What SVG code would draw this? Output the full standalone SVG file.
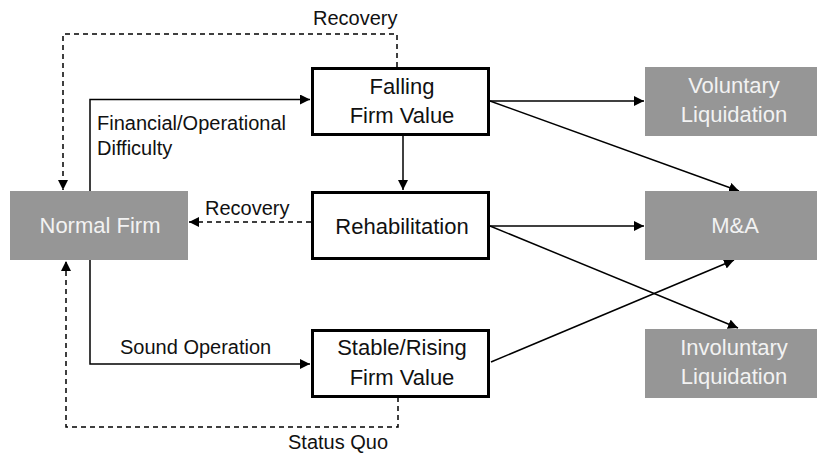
<svg xmlns="http://www.w3.org/2000/svg" width="817" height="453" viewBox="0 0 817 453">
<style>
.box{fill:#ffffff;stroke:#000000;stroke-width:3}
.gbox{fill:#969696;stroke:none}
.nt{font-family:"Liberation Sans",Arial,sans-serif;font-size:22px;fill:#111111;text-anchor:middle}
.gt{font-family:"Liberation Sans",Arial,sans-serif;font-size:22px;fill:#f2f2f2;text-anchor:middle}
.lbl{font-family:"Liberation Sans",Arial,sans-serif;font-size:20px;fill:#111111}
.c{fill:none;stroke:#000000;stroke-width:1.5}
.d{fill:none;stroke:#000000;stroke-width:1.5;stroke-dasharray:5 4}
</style>
<defs>
<marker id="ah" viewBox="0 0 10 10" refX="10" refY="5" markerWidth="10" markerHeight="10" markerUnits="userSpaceOnUse" orient="auto">
<path d="M0,0 L10,5 L0,10 z" fill="#000000"/>
</marker>
</defs>
<rect width="817" height="453" fill="#ffffff"/>
<g id="connectors">
<path class="d" d="M397,67 V34 H63 V190" marker-end="url(#ah)"/>
<path class="c" d="M90,191 V99.5 H310" marker-end="url(#ah)"/>
<path class="c" d="M403,136 V190" marker-end="url(#ah)"/>
<path class="d" d="M311,222 H189" marker-end="url(#ah)"/>
<path class="c" d="M90,260 V364 H310" marker-end="url(#ah)"/>
<path class="d" d="M398,397 V427 H66 V261" marker-end="url(#ah)"/>
<path class="c" d="M490,101 H644" marker-end="url(#ah)"/>
<path class="c" d="M490,101 L739,191" marker-end="url(#ah)"/>
<path class="c" d="M490,226 H644" marker-end="url(#ah)"/>
<path class="c" d="M490,226 L738,328" marker-end="url(#ah)"/>
<path class="c" d="M491,362 L734,260" marker-end="url(#ah)"/>
<text class="lbl" x="313" y="25">Recovery</text>
<text class="lbl" x="97" y="130">Financial/Operational</text>
<text class="lbl" x="97" y="155">Difficulty</text>
<text class="lbl" x="205" y="215">Recovery</text>
<text class="lbl" x="120" y="354">Sound Operation</text>
<text class="lbl" x="288" y="449">Status Quo</text>
</g>
<g id="normal-firm">
<rect class="gbox" x="10" y="191" width="178" height="69"/>
<text class="gt" x="100" y="233">Normal Firm</text>
</g>
<g id="falling">
<rect class="box" x="312.5" y="68.5" width="176" height="66"/>
<text class="nt" x="402" y="94">Falling</text>
<text class="nt" x="402" y="123">Firm Value</text>
</g>
<g id="rehabilitation">
<rect class="box" x="312.5" y="192.5" width="176" height="66"/>
<text class="nt" x="402" y="234">Rehabilitation</text>
</g>
<g id="stable">
<rect class="box" x="312.5" y="330.5" width="176" height="66"/>
<text class="nt" x="402" y="355">Stable/Rising</text>
<text class="nt" x="402" y="385">Firm Value</text>
</g>
<g id="voluntary">
<rect class="gbox" x="645" y="67" width="172" height="69"/>
<text class="gt" x="734" y="93">Voluntary</text>
<text class="gt" x="734" y="122">Liquidation</text>
</g>
<g id="ma">
<rect class="gbox" x="645" y="191" width="172" height="69"/>
<text class="gt" x="735" y="233">M&amp;A</text>
</g>
<g id="involuntary">
<rect class="gbox" x="645" y="329" width="172" height="69"/>
<text class="gt" x="734" y="355">Involuntary</text>
<text class="gt" x="734" y="384">Liquidation</text>
</g>
</svg>
